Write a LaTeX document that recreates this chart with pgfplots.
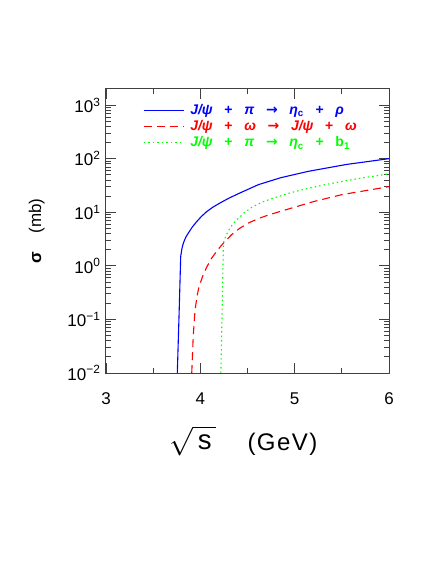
\documentclass[border=0pt]{standalone}
\usepackage{pgfplots}
\pgfplotsset{compat=1.18}
\usepackage{fontspec}
\setmainfont{Liberation Sans}
\newfontfamily\dejavu{DejaVu Sans}

\newcommand{\gap}{\ \ \ }

\begin{document}
\begin{tikzpicture}[x=1pt,y=1pt]
% page frame: 436 x 564, axis box lower-left at (106,373) from top-left
\path[use as bounding box] (-106,-191) rectangle (330,373);
\begin{axis}[
  at={(0,0)}, anchor=south west,
  scale only axis, width=283pt, height=284pt,
  xmin=3, xmax=6,
  ymode=log, ymin=1e-2, ymax=1995,
  xtick={3,4,5,6}, minor x tick num=1,
  ytick={1e-2,1e-1,1,10,100,1000},
  yticklabels={10\textsuperscript{−2},10\textsuperscript{−1},10\textsuperscript{0},10\textsuperscript{1},10\textsuperscript{2},10\textsuperscript{3}},
  xticklabels={3,4,5,6},
  tick align=inside,
  major tick length=10pt, minor tick length=5.5pt,
  axis line style={line width=1pt, black!75},
  every tick/.style={black!75, line width=0.8pt},
  ticklabel style={font=\fontsize{17}{20}\selectfont},
  xticklabel style={yshift=-16pt},
  yticklabel style={xshift=-2pt},
  xlabel={\raisebox{1pt}{\scalebox{1.15}{$\sqrt{\,\mbox{s}\,}$}}\hspace{1.3em}(GeV)},
  xlabel style={font=\fontsize{24}{26}\selectfont\addfontfeature{LetterSpace=6}, at={(axis description cs:0.485,0)}, anchor=center, yshift=-68pt},
  ylabel={{\bfseries σ}\hspace{1.1em}(mb)},
  ylabel style={font=\fontsize{17}{19}\selectfont, at={(axis description cs:-0.245,0.5)}, anchor=center},
  legend style={draw=none, fill=none, at={(axis description cs:0.12,0.96)}, anchor=north west,
    font=\fontsize{14}{16}\selectfont\bfseries, row sep=0.5pt},
  legend cell align=left,
  legend image code/.code={\draw[#1] (0pt,0pt) -- (40pt,0pt);},
]
\addplot[blue, line width=1.1pt] coordinates {
 (3.756,0.01) (3.775,0.13) (3.792,1.5) (3.805,2.1) (3.82,2.65) (3.845,3.4) (3.873,4.1)
 (3.915,5.3) (3.962,6.7) (4.01,8.3) (4.068,10.3) (4.135,12.5) (4.209,14.9) (4.3,18.2)
 (4.403,22.2) (4.5,26.5) (4.615,32.7) (4.85,44) (5.145,58)
 (5.55,78) (6.0,100)};
\addlegendentry{\hspace{4pt}\textcolor{blue}{\textit{J/ψ}\gap+\gap\textit{π}\gap{\dejavu →}\gap\textit{η}\textsubscript{c}\gap+\gap\textit{ρ}}}
\addplot[red, line width=1.1pt, dash pattern=on 8pt off 5pt] coordinates {
 (3.909,0.01) (3.925,0.05) (3.944,0.15) (3.965,0.27) (3.985,0.4) (4.032,0.7) (4.075,1.0) (4.12,1.39)
 (4.18,1.95) (4.244,2.65) (4.33,3.8) (4.42,5.06) (4.51,6.3) (4.62,7.7) (4.75,9.2) (4.97,12.0)
 (5.2,15.8) (5.5,21.3) (6.0,30)};
\addlegendentry{\hspace{4pt}\textcolor{red}{\textit{J/ψ}\gap+\gap\textit{ω}\gap{\dejavu →}\gap\textit{J/ψ}\gap+\gap\textit{ω}}}
\addplot[green, line width=1.1pt, dash pattern=on 1.5pt off 3pt] coordinates {
 (4.218,0.01) (4.245,2.7) (4.27,3.6) (4.30,4.6) (4.34,5.9) (4.39,7.3) (4.46,9.6) (4.55,12.5) (4.66,15.6) (4.8,19)
 (4.96,23.2) (5.145,28) (5.35,33.5) (5.55,39) (5.78,45.5) (6.0,52)};
\addlegendentry{\hspace{4pt}\textcolor{green}{\textit{J/ψ}\gap+\gap\textit{π}\gap{\dejavu →}\gap\textit{η}\textsubscript{c}\gap+\gap b\textsubscript{1}}}
\end{axis}
\end{tikzpicture}
\end{document}
